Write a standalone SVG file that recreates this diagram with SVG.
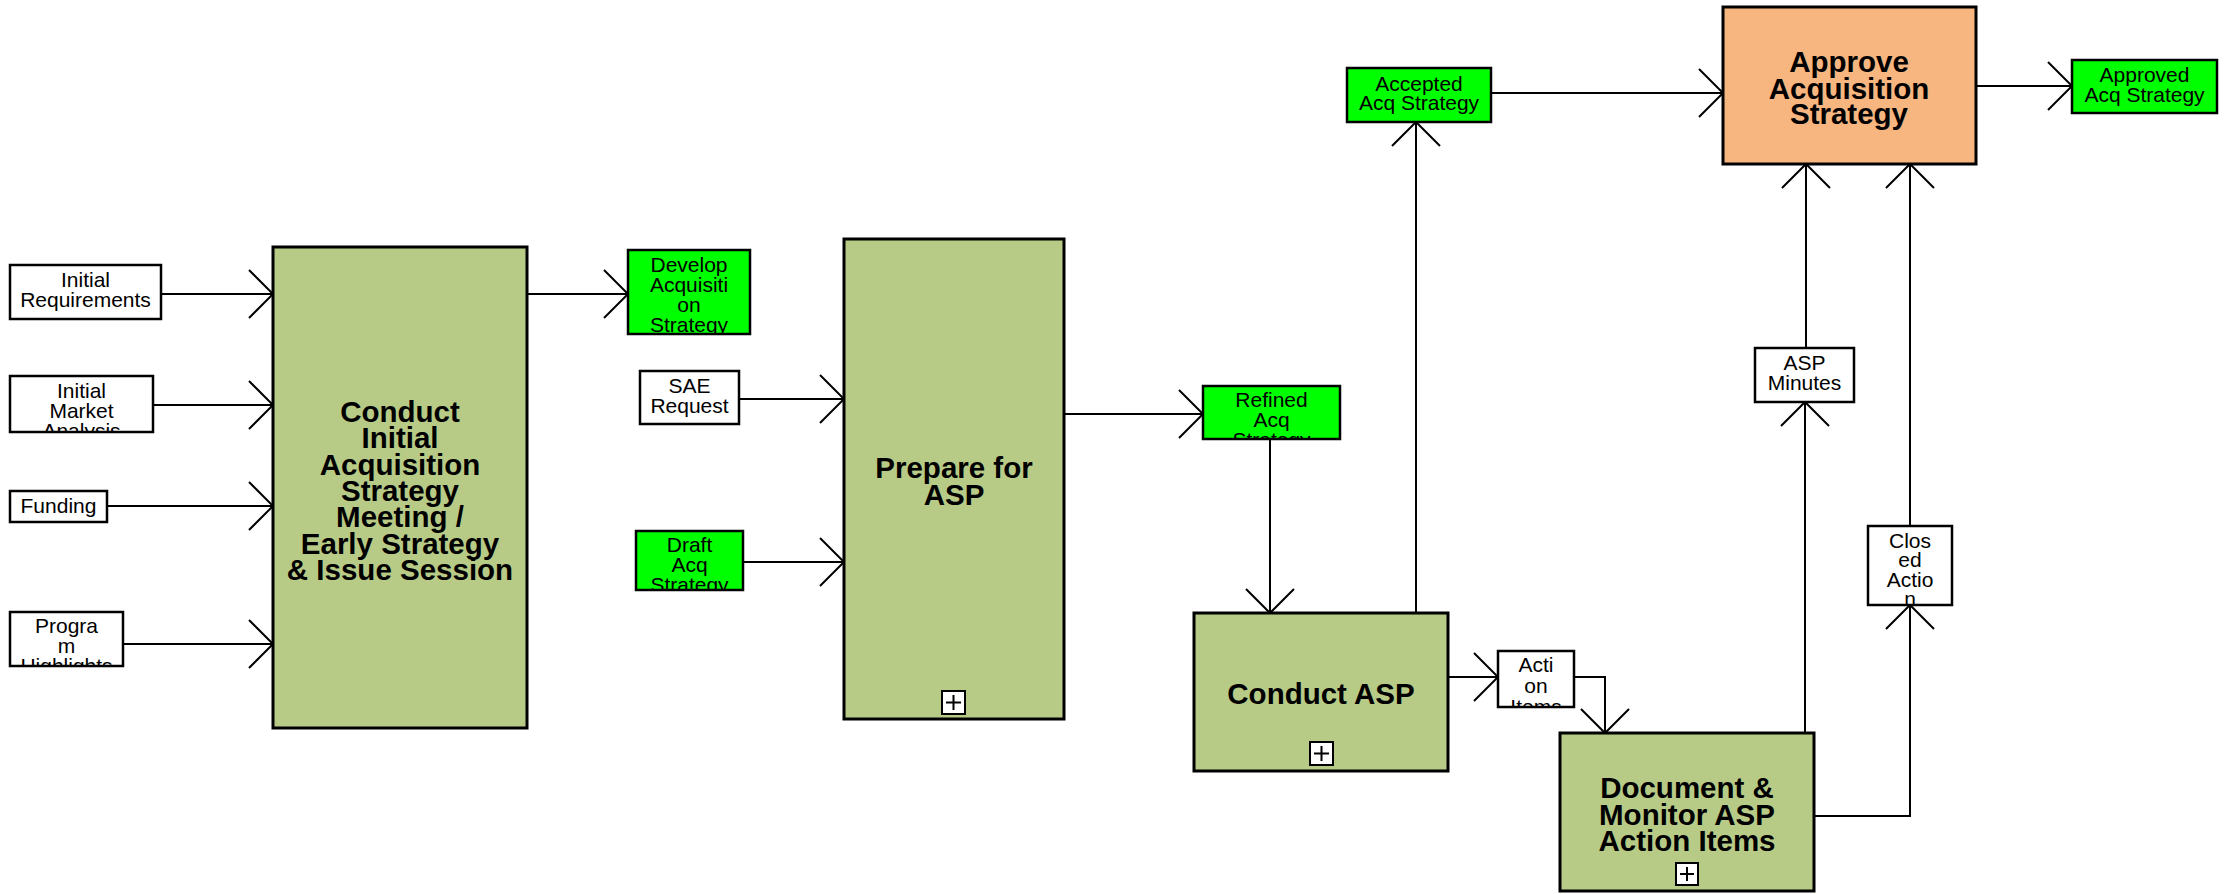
<svg xmlns="http://www.w3.org/2000/svg" width="2235" height="894" viewBox="0 0 2235 894">
<style>
.bg{fill:#ffffff}
.proc{fill:#b7cb87;stroke:#000;stroke-width:3}
.appr{fill:#f7b57f;stroke:#000;stroke-width:3}
.data{fill:#ffffff;stroke:#000;stroke-width:2.5}
.grn{fill:#00ff00;stroke:#000;stroke-width:2.5}
.t{font-family:"Liberation Sans",Arial,sans-serif;font-size:21px;fill:#000;text-anchor:middle}
.tb{font-family:"Liberation Sans",Arial,sans-serif;font-size:29.5px;font-weight:bold;fill:#000;text-anchor:middle}
.ln{fill:none;stroke:#000;stroke-width:2}
.ic{fill:#fff;stroke:#000;stroke-width:2}
</style>
<defs>
<marker id="ah" markerUnits="userSpaceOnUse" viewBox="-27 -27 30 54" refX="0" refY="0" markerWidth="30" markerHeight="54" orient="auto" overflow="visible">
<path d="M-24,-24 L0,0 L-24,24" fill="none" stroke="#000" stroke-width="2"/>
</marker>
<clipPath id="cMkt"><rect x="10" y="376" width="143" height="56"/></clipPath>
<clipPath id="cPrg"><rect x="10" y="612" width="113" height="54"/></clipPath>
<clipPath id="cDev"><rect x="628" y="250" width="122" height="84"/></clipPath>
<clipPath id="cDrf"><rect x="636" y="531" width="107" height="59"/></clipPath>
<clipPath id="cRef"><rect x="1203" y="386" width="137" height="53"/></clipPath>
<clipPath id="cAct"><rect x="1498" y="651" width="76" height="56"/></clipPath>
<clipPath id="cCls"><rect x="1868" y="526" width="84" height="79"/></clipPath>
</defs>
<rect class="bg" x="0" y="0" width="2235" height="894"/>

<g id="connectors">
<line class="ln" x1="161" y1="294" x2="273" y2="294" marker-end="url(#ah)"/>
<line class="ln" x1="153" y1="405" x2="273" y2="405" marker-end="url(#ah)"/>
<line class="ln" x1="107" y1="506" x2="273" y2="506" marker-end="url(#ah)"/>
<line class="ln" x1="123" y1="644" x2="273" y2="644" marker-end="url(#ah)"/>
<line class="ln" x1="527" y1="294" x2="628" y2="294" marker-end="url(#ah)"/>
<line class="ln" x1="739" y1="399" x2="844" y2="399" marker-end="url(#ah)"/>
<line class="ln" x1="743" y1="562" x2="844" y2="562" marker-end="url(#ah)"/>
<line class="ln" x1="1064" y1="414" x2="1203" y2="414" marker-end="url(#ah)"/>
<line class="ln" x1="1270" y1="439" x2="1270" y2="613" marker-end="url(#ah)"/>
<line class="ln" x1="1416" y1="613" x2="1416" y2="122" marker-end="url(#ah)"/>
<line class="ln" x1="1491" y1="93" x2="1723" y2="93" marker-end="url(#ah)"/>
<line class="ln" x1="1976" y1="86" x2="2072" y2="86" marker-end="url(#ah)"/>
<line class="ln" x1="1448" y1="677" x2="1498" y2="677" marker-end="url(#ah)"/>
<polyline class="ln" points="1574,677 1605,677 1605,733" marker-end="url(#ah)"/>
<line class="ln" x1="1805" y1="733" x2="1805" y2="402" marker-end="url(#ah)"/>
<line class="ln" x1="1806" y1="348" x2="1806" y2="164" marker-end="url(#ah)"/>
<polyline class="ln" points="1814,816 1910,816 1910,605" marker-end="url(#ah)"/>
<line class="ln" x1="1910" y1="526" x2="1910" y2="164" marker-end="url(#ah)"/>
</g>

<g id="initial-requirements">
<rect class="data" x="10" y="265" width="151" height="54"/>
<text class="t" x="85.5" y="287">Initial</text>
<text class="t" x="85.5" y="307">Requirements</text>
</g>
<g id="initial-market-analysis">
<rect class="data" x="10" y="376" width="143" height="56"/>
<g clip-path="url(#cMkt)">
<text class="t" x="81.5" y="398">Initial</text>
<text class="t" x="81.5" y="418">Market</text>
<text class="t" x="81.5" y="438">Analysis</text>
</g>
</g>
<g id="funding">
<rect class="data" x="10" y="491" width="97" height="31"/>
<text class="t" x="58.5" y="513">Funding</text>
</g>
<g id="program-highlights">
<rect class="data" x="10" y="612" width="113" height="54"/>
<g clip-path="url(#cPrg)">
<text class="t" x="66.5" y="633">Progra</text>
<text class="t" x="66.5" y="653">m</text>
<text class="t" x="66.5" y="673">Highlights</text>
</g>
</g>

<g id="conduct-initial">
<rect class="proc" x="273" y="247" width="254" height="481"/>
<text class="tb" x="400" y="422">Conduct</text>
<text class="tb" x="400" y="448">Initial</text>
<text class="tb" x="400" y="475">Acquisition</text>
<text class="tb" x="400" y="501">Strategy</text>
<text class="tb" x="400" y="527">Meeting /</text>
<text class="tb" x="400" y="554">Early Strategy</text>
<text class="tb" x="400" y="580">&amp; Issue Session</text>
</g>

<g id="develop-acq-strategy">
<rect class="grn" x="628" y="250" width="122" height="84"/>
<g clip-path="url(#cDev)">
<text class="t" x="689" y="272">Develop</text>
<text class="t" x="689" y="292">Acquisiti</text>
<text class="t" x="689" y="312">on</text>
<text class="t" x="689" y="332">Strategy</text>
</g>
</g>
<g id="sae-request">
<rect class="data" x="640" y="371" width="99" height="53"/>
<text class="t" x="689.5" y="393">SAE</text>
<text class="t" x="689.5" y="413">Request</text>
</g>
<g id="draft-acq-strategy">
<rect class="grn" x="636" y="531" width="107" height="59"/>
<g clip-path="url(#cDrf)">
<text class="t" x="689.5" y="552">Draft</text>
<text class="t" x="689.5" y="572">Acq</text>
<text class="t" x="689.5" y="592">Strategy</text>
</g>
</g>

<g id="prepare-asp">
<rect class="proc" x="844" y="239" width="220" height="480"/>
<text class="tb" x="954" y="478">Prepare for</text>
<text class="tb" x="954" y="505">ASP</text>
<rect class="ic" x="942" y="691" width="23" height="23"/>
<path class="ln" d="M946,702.5 H961 M953.5,695 V710"/>
</g>

<g id="refined-acq-strategy">
<rect class="grn" x="1203" y="386" width="137" height="53"/>
<g clip-path="url(#cRef)">
<text class="t" x="1271.5" y="407">Refined</text>
<text class="t" x="1271.5" y="427">Acq</text>
<text class="t" x="1271.5" y="447">Strategy</text>
</g>
</g>

<g id="conduct-asp">
<rect class="proc" x="1194" y="613" width="254" height="158"/>
<text class="tb" x="1321" y="704">Conduct ASP</text>
<rect class="ic" x="1310" y="742" width="23" height="23"/>
<path class="ln" d="M1314,753.5 H1329 M1321.5,746 V761"/>
</g>

<g id="action-items">
<rect class="data" x="1498" y="651" width="76" height="56"/>
<g clip-path="url(#cAct)">
<text class="t" x="1536" y="672">Acti</text>
<text class="t" x="1536" y="693">on</text>
<text class="t" x="1536" y="714">Items</text>
</g>
</g>

<g id="accepted-acq-strategy">
<rect class="grn" x="1347" y="68" width="144" height="54"/>
<text class="t" x="1419" y="91">Accepted</text>
<text class="t" x="1419" y="110">Acq Strategy</text>
</g>

<g id="approve-acq-strategy">
<rect class="appr" x="1723" y="7" width="253" height="157"/>
<text class="tb" x="1849" y="72">Approve</text>
<text class="tb" x="1849" y="99">Acquisition</text>
<text class="tb" x="1849" y="124">Strategy</text>
</g>

<g id="approved-acq-strategy">
<rect class="grn" x="2072" y="60" width="145" height="53"/>
<text class="t" x="2144.5" y="82">Approved</text>
<text class="t" x="2144.5" y="102">Acq Strategy</text>
</g>

<g id="asp-minutes">
<rect class="data" x="1755" y="348" width="99" height="54"/>
<text class="t" x="1804.5" y="370">ASP</text>
<text class="t" x="1804.5" y="390">Minutes</text>
</g>

<g id="closed-action">
<rect class="data" x="1868" y="526" width="84" height="79"/>
<g clip-path="url(#cCls)">
<text class="t" x="1910" y="548">Clos</text>
<text class="t" x="1910" y="567">ed</text>
<text class="t" x="1910" y="587">Actio</text>
<text class="t" x="1910" y="606">n</text>
</g>
</g>

<g id="document-monitor">
<rect class="proc" x="1560" y="733" width="254" height="158"/>
<text class="tb" x="1687" y="798">Document &amp;</text>
<text class="tb" x="1687" y="825">Monitor ASP</text>
<text class="tb" x="1687" y="851">Action Items</text>
<rect class="ic" x="1676" y="863" width="22" height="22"/>
<path class="ln" d="M1680,874 H1694 M1687,867 V881"/>
</g>
</svg>
